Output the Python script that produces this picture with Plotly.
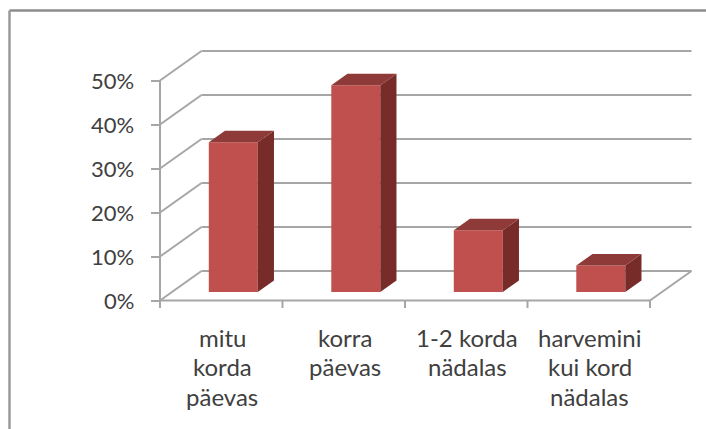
import plotly.graph_objects as go

categories = [["mitu", "korda", "päevas"], ["korra", "päevas"], ["1-2 korda", "nädalas"], ["harvemini", "kui kord", "nädalas"]]
values = [34, 47, 14, 6]
y_ticks = [0, 10, 20, 30, 40, 50]
y_labels = ["0%", "10%", "20%", "30%", "40%", "50%"]

W, H = 706, 429
PX_CAT, PX_10 = 122.5, 44.0
X0_PX, Y0_PX = 160.0, 300.5
x_range = [-0.5 - X0_PX / PX_CAT, -0.5 + (W - X0_PX) / PX_CAT]
y_range = [-(H - Y0_PX) / PX_10 * 10, Y0_PX / PX_10 * 10]

DX, DY = 41.5 / PX_CAT, 29.5 / PX_10 * 10     # oblique depth of the floor
FRONT, BACK = 0.29, 0.68                       # bar depth position within the floor
BAR_W = 49 / PX_CAT
GRID = "#a6a6a6"
TEXT = "#404040"
FONT = "Lato"
LINE_STEP = 29.5 / PX_10 * 10

fig = go.Figure()
shapes = []


def seg(x0, y0, x1, y1, color=GRID, width=2):
    shapes.append(dict(type="line", xref="x", yref="y", x0=x0, y0=y0, x1=x1, y1=y1,
                       layer="below", line=dict(color=color, width=width)))


xl, xr = -0.5, len(values) - 0.5
# walls and gridlines
for t in y_ticks:
    seg(xl, t, xl + DX, t + DY)
    seg(xl + DX, t + DY, xr + DX, t + DY)
seg(xl, 0, xl, y_ticks[-1])
seg(xl, 0, xr, 0)
seg(xr, 0, xr + DX, DY)
# category boundary ticks
for i in range(len(values) + 1):
    seg(xl + i, 0, xl + i, -1.7)

# bar front faces
fig.add_trace(go.Bar(
    x=[i + FRONT * DX for i in range(len(values))],
    y=values,
    base=[FRONT * DY] * len(values),
    width=BAR_W,
    marker=dict(color="#c0504d", line=dict(width=0)),
    showlegend=False,
))

# bar side and top faces
dep = (BACK - FRONT)
for i, v in enumerate(values):
    l = i + FRONT * DX - BAR_W / 2
    r = l + BAR_W
    b = FRONT * DY
    t = b + v
    ox, oy = dep * DX, dep * DY
    fig.add_trace(go.Scatter(x=[r, r + ox, r + ox, r, r], y=[b, b + oy, t + oy, t, b],
                             mode="lines", fill="toself", fillcolor="#772c2a",
                             line=dict(width=0), showlegend=False))
    fig.add_trace(go.Scatter(x=[l, r, r + ox, l + ox, l], y=[t, t, t + oy, t + oy, t],
                             mode="lines", fill="toself", fillcolor="#8e3a38",
                             line=dict(width=0), showlegend=False))

annotations = []
# category labels, one annotation per line for the wide leading
for i, lines in enumerate(categories):
    for j, s in enumerate(lines):
        annotations.append(dict(x=i, y=-8.3 - j * LINE_STEP, text=s, showarrow=False,
                                xref="x", yref="y", xanchor="center", yanchor="middle",
                                xshift=1, font=dict(family=FONT, size=24, color=TEXT)))
# value labels
for t, s in zip(y_ticks, y_labels):
    annotations.append(dict(x=xl, y=t, text=s, showarrow=False, xref="x", yref="y",
                            xanchor="right", yanchor="middle", xshift=-24, yshift=0,
                            font=dict(family=FONT, size=22, color=TEXT)))

# outer chart frame
shapes.append(dict(type="line", xref="paper", yref="paper", x0=9.5 / W, x1=1,
                   y0=1 - 10.5 / H, y1=1 - 10.5 / H, line=dict(color="#8c8c8c", width=2.5)))
shapes.append(dict(type="line", xref="paper", yref="paper", x0=9.5 / W, x1=9.5 / W,
                   y0=0, y1=1 - 10.5 / H, line=dict(color="#9a9a9a", width=2.5)))

fig.update_layout(
    width=W, height=H, margin=dict(l=0, r=0, t=0, b=0),
    paper_bgcolor="white", plot_bgcolor="white", shapes=shapes, annotations=annotations,
    showlegend=False,
    xaxis=dict(range=x_range, visible=False, fixedrange=True),
    yaxis=dict(range=y_range, anchor="free", position=X0_PX / W, side="left",
               tickmode="array", tickvals=y_ticks, showticklabels=False,
               ticks="outside", ticklen=9, tickwidth=2, tickcolor=GRID,
               showline=False, showgrid=False, zeroline=False, fixedrange=True),
)
fig.write_html("out.html", post_script="document.body.style.margin='0';", config={"displayModeBar": False})
